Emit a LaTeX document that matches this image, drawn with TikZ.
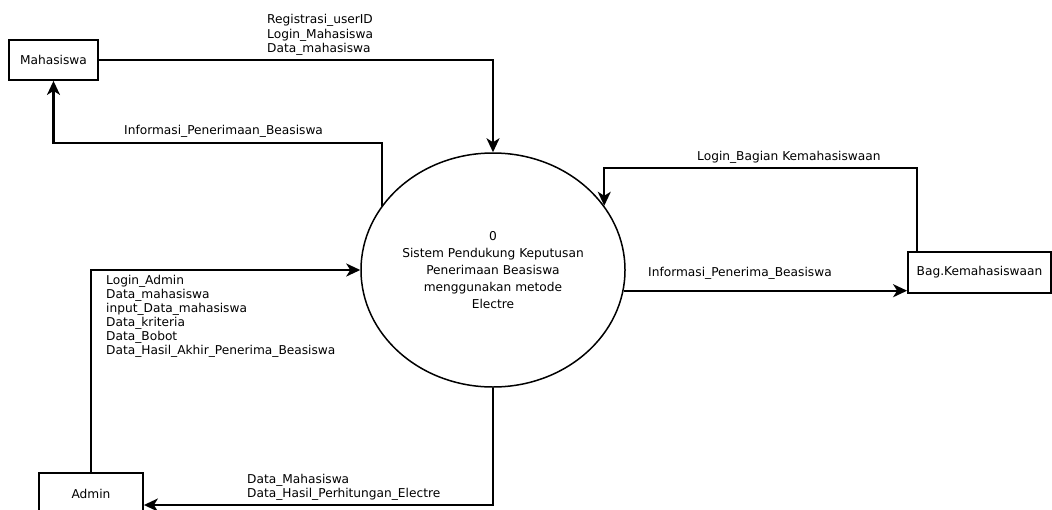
\documentclass[tikz,border=0pt]{standalone}
\usepackage{fontspec}
\setmainfont{DejaVu Sans}
\usetikzlibrary{positioning,shapes.geometric,arrows.meta}

\begin{document}
\begin{tikzpicture}[x=1pt,y=-1pt,
		entity/.style={draw,line width=1.8pt,rectangle,inner sep=0pt,font=\fontsize{12.2}{14}\selectfont},
		process/.style={draw,line width=1.5pt,ellipse,inner sep=0pt,minimum width=264pt,minimum height=234pt,align=center,font=\fontsize{12.2}{17}\selectfont},
		flow/.style={line width=2.1pt,-{Stealth[length=14pt,width=13pt,inset=4pt]}},
		lbl/.style={anchor=west,inner sep=0pt,align=left,font=\fontsize{12.2}{14.5}\selectfont}]
		\useasboundingbox (0,0) rectangle (1052,509);
		%External entities and the process
		\node[entity,minimum width=89pt,minimum height=40pt] (mhs) at (53.5,60) {Mahasiswa};
		\node[entity,minimum width=104pt,minimum height=42pt] (admin) at (91,494) {Admin};
		\node[entity,minimum width=143pt,minimum height=41pt] (bag) at (979.5,272.5) {Bag.Kemahasiswaan};
		\node[process] (proc) at (493,270) {0\\Sistem Pendukung Keputusan\\Penerimaan Beasiswa\\menggunakan metode\\Electre};
		%Data flows
		\draw[flow] (mhs.east) -| (proc.north);
		\draw[flow] (proc.150) -- ++(0,-63) -| (mhs.south);
		\draw[flow] ([xshift=10pt]bag.north west) -- ++(0,-83) -| (proc.30);
		\draw[flow] (proc.-9) -- (proc.-9 -| bag.west);
		\draw[flow] (admin.north) |- (proc.west);
		\draw[flow] (proc.south) |- ([yshift=-11pt]admin.east);
		%Flow labels
		\node[lbl] (lmhsin) at (267,35) {Registrasi\_userID\\Login\_Mahasiswa\\Data\_mahasiswa};
		\node[lbl] (lmhsout) at (124,131) {Informasi\_Penerimaan\_Beasiswa};
		\node[lbl] (lbagin) at (697,157) {Login\_Bagian Kemahasiswaan};
		\node[lbl] (lbagout) at (648,273) {Informasi\_Penerima\_Beasiswa};
		\node[lbl,font=\fontsize{12.2}{14}\selectfont] (ladmin) at (106,316) {Login\_Admin\\Data\_mahasiswa\\input\_Data\_mahasiswa\\Data\_kriteria\\Data\_Bobot\\Data\_Hasil\_Akhir\_Penerima\_Beasiswa};
		\node[lbl,font=\fontsize{12.2}{13.5}\selectfont] (ladminout) at (247,487.5) {Data\_Mahasiswa\\Data\_Hasil\_Perhitungan\_Electre};
\end{tikzpicture}
\end{document}
